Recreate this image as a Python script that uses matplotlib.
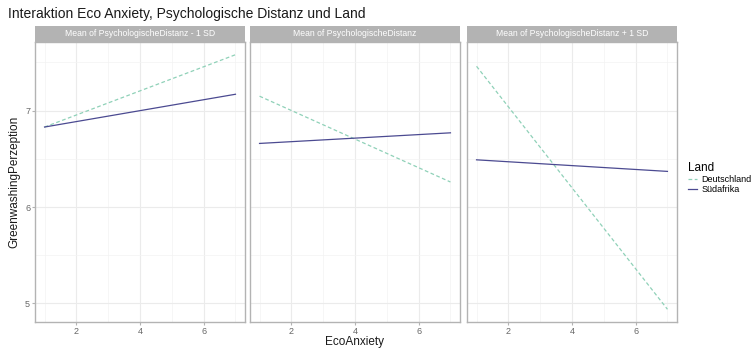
import matplotlib.pyplot as plt
from matplotlib.lines import Line2D

plt.rcParams['font.family'] = ['Liberation Sans', 'DejaVu Sans']

# Daten
eco_anxiety = [1, 7]
panels = ['Mean of PsychologischeDistanz - 1 SD',
          'Mean of PsychologischeDistanz',
          'Mean of PsychologischeDistanz + 1 SD']
deutschland = [[6.83, 7.58], [7.15, 6.26], [7.46, 4.94]]
suedafrika = [[6.83, 7.17], [6.66, 6.77], [6.49, 6.37]]
laender = ['Deutschland', 'Südafrika']

col_de = '#8fd1b8'
col_sa = '#4b4a91'
grid_col = '#ebebeb'
border_col = '#b3b3b3'

# ggplot-artige Achsen-Erweiterung (5%)
alle_y = [v for s in deutschland + suedafrika for v in s]
ymin, ymax = min(alle_y), max(alle_y)
ypad = (ymax - ymin) * 0.05
xpad = (eco_anxiety[1] - eco_anxiety[0]) * 0.05

fig = plt.figure(figsize=(7.53, 3.49), dpi=100)
lefts = [35 / 753, 250 / 753, 467 / 753]
w = 210 / 753
bottom = 27 / 349
h = 280 / 349
strip_h = 16 / 349

for i, titel in enumerate(panels):
    ax = fig.add_axes([lefts[i], bottom, w, h])
    ax.set_xlim(eco_anxiety[0] - xpad, eco_anxiety[1] + xpad)
    ax.set_ylim(ymin - ypad, ymax + ypad)
    ax.set_xticks([2, 4, 6])
    ax.set_xticks([1, 3, 5, 7], minor=True)
    ax.set_yticks([5, 6, 7])
    ax.set_yticks([5.5, 6.5, 7.5], minor=True)
    ax.grid(True, which='major', color=grid_col, lw=0.8)
    ax.grid(True, which='minor', color='#f3f3f3', lw=0.5)
    ax.set_axisbelow(True)
    for sp in ax.spines.values():
        sp.set_color(border_col)
        sp.set_linewidth(1.0)
    ax.tick_params(which='both', length=2, color=border_col, labelsize=6.5,
                   labelcolor='#666666', pad=1.5)
    ax.tick_params(which='minor', length=0)
    if i > 0:
        ax.tick_params(axis='y', labelleft=False, length=0)

    ax.plot(eco_anxiety, deutschland[i], color=col_de, ls=(0, (3, 2)), lw=0.9)
    ax.plot(eco_anxiety, suedafrika[i], color=col_sa, lw=0.9)

    sax = fig.add_axes([lefts[i], bottom + h, w, strip_h])
    sax.set_facecolor('#b3b3b3')
    sax.set_xticks([])
    sax.set_yticks([])
    for sp in sax.spines.values():
        sp.set_visible(False)
    sax.text(0.5, 0.5, titel, color='white', fontsize=6.2,
             ha='center', va='center', transform=sax.transAxes)

fig.text(8 / 753, 1 - 14 / 349, 'Interaktion Eco Anxiety, Psychologische Distanz und Land',
         fontsize=10, va='center', ha='left', color='#1a1a1a')
fig.text(14 / 753, bottom + h / 2, 'GreenwashingPerzeption', rotation=90,
         fontsize=8.5, va='center', ha='center', color='#1a1a1a')
fig.text((250 + 105) / 753, 1 - 342.5 / 349, 'EcoAnxiety',
         fontsize=8.5, va='center', ha='center', color='#1a1a1a')

handles = [Line2D([], [], color=col_de, ls=(0, (3, 2)), lw=0.9),
           Line2D([], [], color=col_sa, lw=0.9)]
leg = fig.legend(handles, laender, title='Land', loc='upper left',
                 bbox_to_anchor=(688 / 753, 1 - 162 / 349), frameon=False,
                 fontsize=6.5, title_fontsize=8.5, handlelength=1.0,
                 handletextpad=0.5, labelspacing=0.1, borderaxespad=0,
                 borderpad=0)
leg._legend_box.align = 'left'

fig.savefig('out.png', dpi=100)
